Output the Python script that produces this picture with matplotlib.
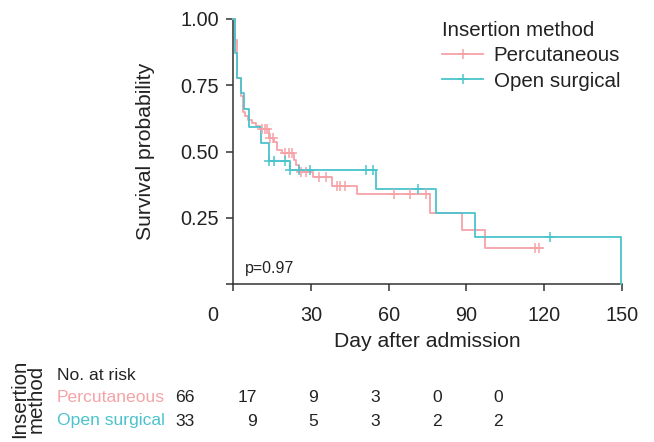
import matplotlib
matplotlib.use("Agg")
import matplotlib.pyplot as plt
import matplotlib.transforms as mtransforms
from matplotlib.lines import Line2D
import numpy as np

plt.rcParams['font.family'] = ['Liberation Sans', 'DejaVu Sans']

# ---------------- data ----------------
groups = ["Percutaneous", "Open surgical"]
colors = ["#F5A3A7", "#4BC3CC"]

perc_times = [0, 0.9, 1.6, 3.0, 3.7, 4.6, 5.9, 7.5, 8.8, 10.4, 13.8, 15.7, 17.1, 19.0,
              23.5, 24.4, 25.5, 30.9, 38.0, 48.0, 76.1, 88.3, 97.3]
perc_surv = [1.0, 0.92, 0.776, 0.709, 0.648, 0.634, 0.619, 0.606, 0.596, 0.584, 0.55, 0.537,
             0.506, 0.495, 0.468, 0.449, 0.424, 0.405, 0.371, 0.338, 0.269, 0.204, 0.135]
perc_end = 119.3
perc_censor = [11.3, 12.3, 13.3, 14.2, 15.4, 20.0, 21.6, 22.9, 26.4, 28.0, 33.2, 36.0,
               40.1, 41.4, 43.1, 62.1, 68.1, 74.3, 116.3, 118.0]

open_times = [0, 0.9, 1.7, 3.2, 4.1, 6.2, 10.8, 13.9, 22.0, 55.0, 78.2, 93.3, 149.5]
open_surv = [1.0, 0.873, 0.778, 0.72, 0.659, 0.594, 0.531, 0.465, 0.430, 0.357, 0.269, 0.178, 0.0]
open_end = 149.5
open_censor = [13.9, 15.8, 20.0, 22.0, 25.6, 29.5, 51.4, 53.8, 71.4, 122.4]

risk_times = [0, 30, 60, 90, 120, 150]
risk_perc = [66, 17, 9, 3, 0, 0]
risk_open = [33, 9, 5, 3, 2, 2]

x_ticks = [0, 30, 60, 90, 120, 150]
y_ticks = [0, 0.25, 0.5, 0.75, 1.0]
y_ticklabels = ["", "0.25", "0.50", "0.75", "1.00"]
p_text = "p=0.97"

# ---------------- figure ----------------
W, H = 654, 442
fig = plt.figure(figsize=(W / 100, H / 100), dpi=100)
txt = "#222222"
fs_tick = 14.3
fs_title = 15.2
fs_leg = 14.8
fs_risk = 12.6

def fx(px):
    return px / W

def fy(py):
    return 1 - py / H

ax = fig.add_axes([fx(233), fy(284), fx(622) - fx(233), fy(19) - fy(284)])
ax.set_xlim(0, 150)
ax.set_ylim(0, 1)

def step_at(times, surv, t):
    idx = np.searchsorted(times, t, side="right") - 1
    return surv[idx]

series = [(perc_times, perc_surv, perc_end, perc_censor),
          (open_times, open_surv, open_end, open_censor)]
for (t, s, end, cen), col in zip(series, colors):
    tt = list(t) + [end]
    ss = list(s) + [s[-1]]
    ax.step(tt, ss, where="post", color=col, lw=1.3, clip_on=False, zorder=3)
    cy = [step_at(t, s, c) for c in cen]
    ax.plot(cen, cy, ls="none", marker="+", ms=7, mew=1.1, color=col, clip_on=False, zorder=4)

for sp in ["top", "right"]:
    ax.spines[sp].set_visible(False)
for sp in ["left", "bottom"]:
    ax.spines[sp].set_linewidth(1.1)
    ax.spines[sp].set_color("#333333")

ax.set_xticks(x_ticks)
ax.set_xticklabels([""] + [str(v) for v in x_ticks[1:]])
ax.set_yticks(y_ticks)
ax.set_yticklabels(y_ticklabels)
ax.tick_params(axis="x", length=5, width=1.1, color="#333333", pad=11, labelsize=fs_tick, labelcolor=txt)
ax.tick_params(axis="y", length=5, width=1.1, color="#333333", pad=5, labelsize=fs_tick, labelcolor=txt)
# the "0" label sits left of its tick in the reference
ax.text(-0.051, -0.083, "0", transform=ax.transAxes, ha="center", va="top", fontsize=fs_tick, color=txt)

ax.set_xlabel("Day after admission", fontsize=fs_title, color=txt)
ax.xaxis.set_label_coords(0.5, -0.18)
ax.set_ylabel("Survival probability", fontsize=fs_title, color=txt)
ax.yaxis.set_label_coords(-0.20, 0.5)

ax.text(4.6, 0.057, p_text, fontsize=11.5, color=txt, ha="left", va="center")

# legend
handles = [Line2D([], [], color=c, lw=1.3, marker="+", ms=7, mew=1.1) for c in colors]
leg = fig.legend(handles, groups, title="Insertion method", loc="upper left",
                 bbox_to_anchor=(fx(432), fy(11)), frameon=False, fontsize=fs_leg,
                 title_fontsize=fs_leg, alignment="left", handlelength=2.0,
                 handletextpad=0.5, labelspacing=0.3, borderpad=0)
for t_ in leg.get_texts():
    t_.set_color(txt)
leg.get_title().set_color(txt)

# ---------------- risk table ----------------
axr = fig.add_axes([fx(195), fy(432.5), fx(503.3) - fx(195), fy(363.5) - fy(432.5)])
axr.set_xlim(0, 150)
axr.set_ylim(2.5, -0.5)
axr.axis("off")
blend = mtransforms.blended_transform_factory(fig.transFigure, axr.transData)
fig.text(fx(57), 0, "No. at risk", transform=blend, fontsize=fs_risk, color=txt, ha="left", va="center")
for row, (name, vals, col) in enumerate(zip(groups, [risk_perc, risk_open], colors), start=1):
    fig.text(fx(57), row, name, transform=blend, fontsize=fs_risk, color=col, ha="left", va="center")
    for t, v in zip(risk_times, vals):
        axr.text(t, row, str(v), fontsize=fs_risk, color=txt, ha="right", va="center")

fig.text(fx(28), fy(399), "Insertion\nmethod", rotation=90, fontsize=14.8, color=txt,
         ha="center", va="center", multialignment="center", linespacing=0.85)

fig.savefig("out.png", dpi=100)
